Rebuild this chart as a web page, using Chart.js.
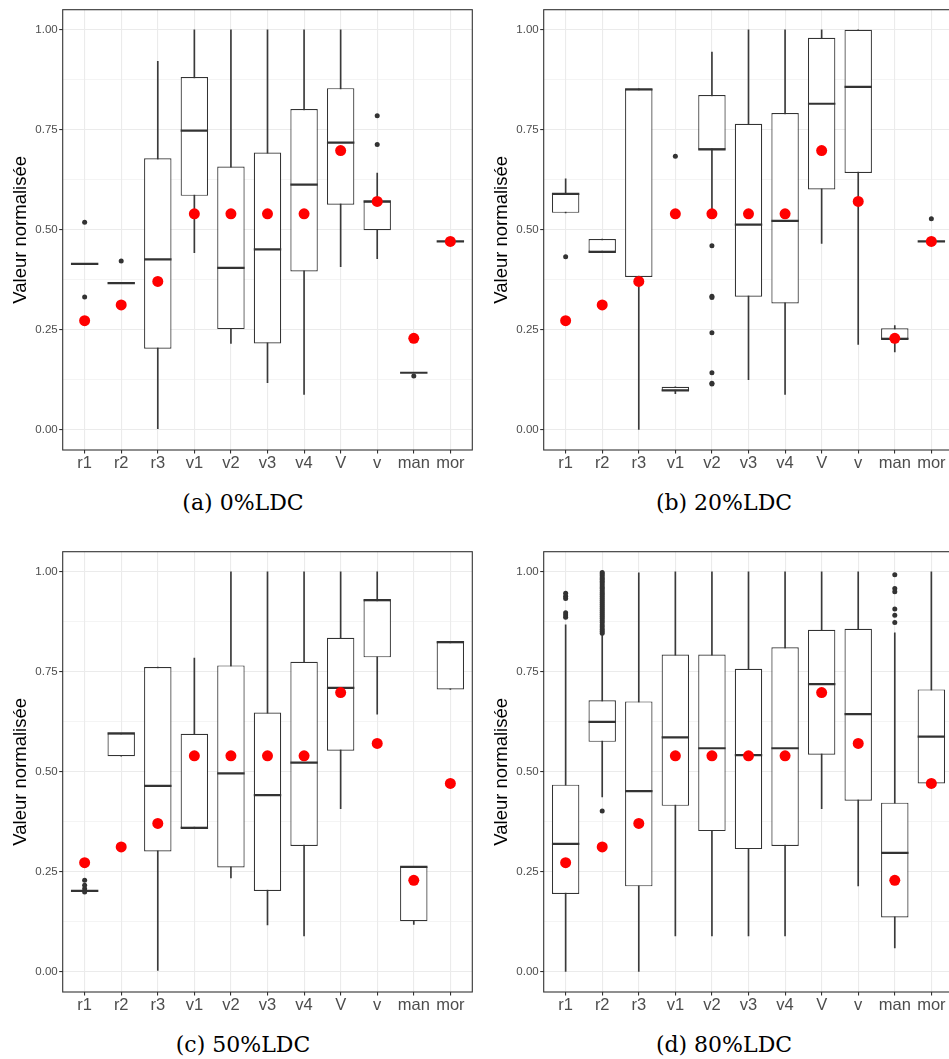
<!DOCTYPE html>
<html lang="fr">
<head>
<meta charset="utf-8">
<script src="https://cdn.jsdelivr.net/npm/chart.js@4"></script>
<style>
  html, body { margin: 0; padding: 0; background: #fff; overflow: hidden; }
  body { width: 949px; height: 1059px; position: relative; }
  .panel { position: absolute; width: 486px; height: 530px; }
  .panel canvas { position: absolute; left: 0; top: 0; }
  .caption {
    position: absolute; left: 0; top: 490px; width: 486px;
    text-align: center; font-family: "DejaVu Serif", serif;
    font-size: 22px; line-height: 26px; color: #000;
  }
</style>
</head>
<body>
<div class="panel" style="left:0;top:0"><canvas id="p0" width="480" height="480"></canvas><div class="caption">(a) 0%LDC</div></div>
<div class="panel" style="left:481px;top:0"><canvas id="p20" width="480" height="480"></canvas><div class="caption">(b) 20%LDC</div></div>
<div class="panel" style="left:0;top:542px"><canvas id="p50" width="480" height="480"></canvas><div class="caption">(c) 50%LDC</div></div>
<div class="panel" style="left:481px;top:542px"><canvas id="p80" width="480" height="480"></canvas><div class="caption">(d) 80%LDC</div></div>

<script>
// catégories et graduations
const CATEGORIES = ["r1", "r2", "r3", "v1", "v2", "v3", "v4", "V", "v", "man", "mor"]
const Y_TICKS = [0, 0.125, 0.25, 0.375, 0.5, 0.625, 0.75, 0.875, 1]

// points rouges (identiques dans les 4 panneaux)
const RED_POINTS = [0.273, 0.3125, 0.371, 0.54, 0.54, 0.54, 0.54, 0.698, 0.571, 0.229, 0.471]

// (a) 0%LDC
const LOW_0 = [0.415, 0.367, 0.003, 0.443, 0.216, 0.118, 0.089, 0.408, 0.428, 0.143, 0.471]
const Q1_0 = [0.415, 0.367, 0.203, 0.585, 0.252, 0.216, 0.396, 0.563, 0.499, 0.143, 0.471]
const MED_0 = [0.415, 0.367, 0.426, 0.748, 0.405, 0.451, 0.613, 0.718, 0.571, 0.143, 0.471]
const Q3_0 = [0.415, 0.367, 0.679, 0.882, 0.658, 0.693, 0.802, 0.854, 0.571, 0.143, 0.471]
const HIGH_0 = [0.415, 0.367, 0.921, 1, 1, 1, 1, 1, 0.642, 0.143, 0.471]
const OUT_0 = [["r1", 0.519], ["r1", 0.332], ["r2", 0.422], ["v", 0.785], ["v", 0.713], ["man", 0.135]]

// (b) 20%LDC
const LOW_20 = [0.5425, 0.445, 0, 0.091, 0.545, 0.126, 0.089, 0.466, 0.214, 0.195, 0.471]
const Q1_20 = [0.5425, 0.445, 0.3825, 0.0975, 0.701, 0.333, 0.316, 0.601, 0.642, 0.2275, 0.471]
const MED_20 = [0.59, 0.445, 0.851, 0.099, 0.701, 0.513, 0.5225, 0.815, 0.857, 0.2275, 0.471]
const Q3_20 = [0.59, 0.477, 0.852, 0.108, 0.837, 0.765, 0.792, 0.98, 1, 0.254, 0.471]
const HIGH_20 = [0.6275, 0.477, 0.852, 0.108, 0.944, 1, 1, 1, 1, 0.261, 0.471]
const OUT_20 = [
  ["r1", 0.433], ["v1", 0.684],
  ["v2", 0.46], ["v2", 0.334], ["v2", 0.331], ["v2", 0.243], ["v2", 0.143], ["v2", 0.117], ["v2", 0.115],
  ["mor", 0.528],
]

// (c) 50%LDC
const LOW_50 = [0.2025, 0.539, 0.004, 0.36, 0.235, 0.1175, 0.09, 0.408, 0.644, 0.119, 0.706]
const Q1_50 = [0.2025, 0.539, 0.301, 0.36, 0.261, 0.2025, 0.315, 0.553, 0.786, 0.1267, 0.706]
const MED_50 = [0.2025, 0.596, 0.465, 0.36, 0.496, 0.442, 0.523, 0.71, 0.929, 0.2625, 0.824]
const Q3_50 = [0.2025, 0.596, 0.762, 0.595, 0.766, 0.648, 0.775, 0.835, 0.929, 0.2625, 0.824]
const HIGH_50 = [0.2025, 0.596, 0.762, 0.784, 1, 1, 1, 1, 1, 0.2625, 0.824]
const OUT_50 = [["r1", 0.229], ["r1", 0.217], ["r1", 0.208], ["r1", 0.2]]

// (d) 80%LDC
const LOW_80 = [0, 0.4375, 0, 0.09, 0.09, 0.09, 0.09, 0.408, 0.215, 0.06, 0.471]
const Q1_80 = [0.195, 0.575, 0.214, 0.415, 0.352, 0.307, 0.315, 0.543, 0.428, 0.136, 0.471]
const MED_80 = [0.32, 0.625, 0.452, 0.586, 0.559, 0.542, 0.559, 0.719, 0.644, 0.2975, 0.588]
const Q3_80 = [0.468, 0.679, 0.676, 0.793, 0.793, 0.7575, 0.811, 0.855, 0.8575, 0.423, 0.706]
const HIGH_80 = [0.867, 0.843, 0.997, 1, 1, 1, 1, 1, 1, 0.8475, 1]
const OUT_80 = [
  ["r1", 0.946], ["r1", 0.939], ["r1", 0.933], ["r1", 0.8975], ["r1", 0.892], ["r1", 0.886],
  ["r2", 0.998], ["r2", 0.994], ["r2", 0.99], ["r2", 0.985], ["r2", 0.981], ["r2", 0.976],
  ["r2", 0.972], ["r2", 0.967], ["r2", 0.962], ["r2", 0.958], ["r2", 0.953], ["r2", 0.948],
  ["r2", 0.944], ["r2", 0.939], ["r2", 0.934], ["r2", 0.929], ["r2", 0.924], ["r2", 0.919],
  ["r2", 0.914], ["r2", 0.909], ["r2", 0.904], ["r2", 0.899], ["r2", 0.894], ["r2", 0.889],
  ["r2", 0.884], ["r2", 0.878], ["r2", 0.873], ["r2", 0.867], ["r2", 0.862], ["r2", 0.856],
  ["r2", 0.851], ["r2", 0.846], ["r2", 0.402],
  ["man", 0.9925], ["man", 0.958], ["man", 0.95], ["man", 0.907], ["man", 0.891], ["man", 0.873],
]


const FONT = "'Liberation Sans', Arial, sans-serif"
const DARK = "#333333"
const GRID = "#EBEBEB"


// graduation principale ?
function isMajor(value) {
  return Math.round(value * 8) % 2 === 0
}


// cadre du panneau
const panelBorder = {
  id: "panelBorder",
  afterDatasetsDraw(chart) {
    const a = chart.chartArea
    const ctx = chart.ctx
    ctx.save()
    ctx.strokeStyle = DARK
    ctx.lineWidth = 1.1
    ctx.strokeRect(a.left, a.top, a.right - a.left, a.bottom - a.top)
    ctx.restore()
  },
}


// dessine un panneau de boîtes à moustaches
function drawPanel(id, low, q1, med, q3, high, outliers) {
  const whiskers = CATEGORIES.map(function (c, i) {
    return { x: i + 1, y: [low[i], high[i]] }
  })
  const boxes = CATEGORIES.map(function (c, i) {
    return { x: i + 1, y: [q1[i], q3[i]] }
  })
  const medians = CATEGORIES.map(function (c, i) {
    return { x: i + 1, y: med[i] }
  })
  const reds = CATEGORIES.map(function (c, i) {
    return { x: i + 1, y: RED_POINTS[i] }
  })
  const outs = outliers.map(function (o) {
    return { x: CATEGORIES.indexOf(o[0]) + 1, y: o[1] }
  })

  new Chart(document.getElementById(id), {
    type: "bar",
    data: {
      datasets: [
        {
          data: whiskers,
          backgroundColor: "#3a3a3a",
          barThickness: 1,
          grouped: false,
          order: 5,
        },
        {
          data: boxes,
          backgroundColor: "#ffffff",
          borderColor: DARK,
          borderWidth: 1.2,
          borderSkipped: false,
          barPercentage: 0.75,
          categoryPercentage: 1,
          grouped: false,
          order: 4,
        },
        {
          type: "scatter",
          data: medians,
          pointStyle: "line",
          pointRadius: 13.7,
          borderColor: DARK,
          borderWidth: 2.2,
          order: 3,
        },
        {
          type: "scatter",
          data: outs,
          pointRadius: 2.5,
          backgroundColor: DARK,
          borderWidth: 0,
          order: 2,
        },
        {
          type: "scatter",
          data: reds,
          pointRadius: 5.5,
          backgroundColor: "#FF0000",
          borderWidth: 0,
          order: 1,
        },
      ],
    },
    options: {
      responsive: false,
      animation: false,
      events: [],
      layout: { autoPadding: false, padding: { left: 0, right: 7.7, top: 9.7, bottom: 0 } },
      plugins: { legend: { display: false }, tooltip: { enabled: false } },
      scales: {
        x: {
          type: "linear",
          min: 0.4,
          max: 11.6,
          offset: false,
          border: { display: false },
          grid: {
            offset: false,
            color: GRID,
            lineWidth: 1.1,
            tickColor: DARK,
            tickLength: 3.5,
            tickWidth: 1.1,
          },
          afterBuildTicks: function (scale) {
            scale.ticks = CATEGORIES.map(function (c, i) {
              return { value: i + 1 }
            })
          },
          afterFit: function (scale) {
            scale.height = 30
          },
          ticks: {
            autoSkip: false,
            maxRotation: 0,
            padding: 0,
            color: "#4D4D4D",
            font: { family: FONT, size: 16.5 },
            callback: function (value) {
              return CATEGORIES[value - 1] || ""
            },
          },
        },
        y: {
          min: -0.05,
          max: 1.05,
          border: { display: false },
          grid: {
            color: GRID,
            lineWidth: function (ctx) {
              return isMajor(ctx.tick.value) ? 1.1 : 0.55
            },
            tickColor: function (ctx) {
              return isMajor(ctx.tick.value) ? DARK : "rgba(0,0,0,0)"
            },
            tickLength: 3.5,
            tickWidth: 1.1,
          },
          afterBuildTicks: function (scale) {
            scale.ticks = Y_TICKS.map(function (v) {
              return { value: v }
            })
          },
          afterFit: function (scale) {
            scale.width = 62.7
          },
          ticks: {
            autoSkip: false,
            padding: 1.5,
            color: "#4D4D4D",
            font: { family: FONT, size: 11.5 },
            callback: function (value) {
              return isMajor(value) ? value.toFixed(2) : ""
            },
          },
          title: {
            display: true,
            text: "Valeur normalisée",
            color: "#000000",
            font: { family: FONT, size: 18.5, lineHeight: 1.2 },
            padding: { top: 10, bottom: 0 },
          },
        },
      },
    },
    plugins: [panelBorder],
  })
}


drawPanel("p0", LOW_0, Q1_0, MED_0, Q3_0, HIGH_0, OUT_0)
drawPanel("p20", LOW_20, Q1_20, MED_20, Q3_20, HIGH_20, OUT_20)
drawPanel("p50", LOW_50, Q1_50, MED_50, Q3_50, HIGH_50, OUT_50)
drawPanel("p80", LOW_80, Q1_80, MED_80, Q3_80, HIGH_80, OUT_80)
</script>
</body>
</html>
